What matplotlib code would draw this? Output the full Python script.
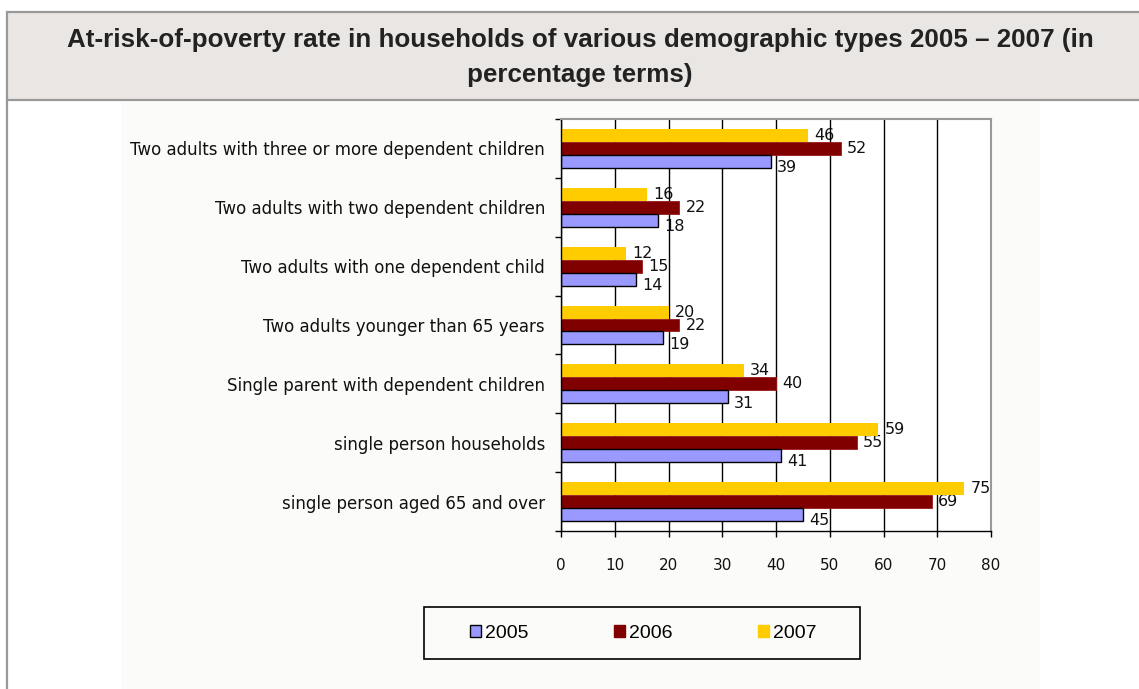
import matplotlib
matplotlib.use("Agg")
import matplotlib.pyplot as plt
from matplotlib.patches import Rectangle, Patch
from matplotlib.lines import Line2D
import numpy as np

# ---- data -------------------------------------------------------------
categories = [
    "Two adults with three or more dependent children",
    "Two adults with two dependent children",
    "Two adults with one dependent child",
    "Two adults younger than 65 years",
    "Single parent with dependent children",
    "single person households",
    "single person aged 65 and over",
]
years = ["2005", "2006", "2007"]
rate_2005 = [39, 18, 14, 19, 31, 41, 45]
rate_2006 = [52, 22, 15, 22, 40, 55, 69]
rate_2007 = [46, 16, 12, 20, 34, 59, 75]
x_ticks = [0, 10, 20, 30, 40, 50, 60, 70, 80]

title_lines = [
    "At-risk-of-poverty rate in households of various demographic types 2005 \u2013 2007 (in",
    "percentage terms)",
]

# ---- figure & pixel helpers ----------------------------------------------
W, H = 1139, 689
fig = plt.figure(figsize=(W / 100, H / 100), dpi=100)
fig.patch.set_facecolor("white")


def fx(px):
    return px / W


def fy(py):
    return 1 - py / H


BORDER = "#999999"

# chart picture background
fig.patches.append(Rectangle((fx(121), fy(689)), fx(1040) - fx(121), fy(101) - fy(689),
                             transform=fig.transFigure, facecolor="#fbfcf9",
                             edgecolor="none", zorder=-2))
# header panel
fig.patches.append(Rectangle((fx(7), fy(100)), fx(1150) - fx(7), fy(12) - fy(100),
                             transform=fig.transFigure, facecolor="#e9e6e4",
                             edgecolor=BORDER, linewidth=1.6, zorder=-1))
fig.lines.append(Line2D([fx(7), fx(7)], [fy(100), fy(700)], transform=fig.transFigure,
                        color=BORDER, linewidth=1.6, zorder=-1))

for i, line in enumerate(title_lines):
    fig.text(fx(580), fy(40 + 35 * i), line, ha="center", va="center",
             fontsize=18.7, fontweight="bold", family="Liberation Sans", color="#222222")

# ---- axes ----------------------------------------------------------------
ax = fig.add_axes([fx(561), fy(531), fx(991) - fx(561), fy(119) - fy(531)])
ax.set_zorder(2)
ax.set_facecolor("white")

y = np.arange(len(categories))
h = 0.22

b07 = ax.barh(y - h, rate_2007, height=h, color="#ffcc00", edgecolor="none", zorder=2)
b06 = ax.barh(y, rate_2006, height=h, color="#800000", edgecolor="#9a1a1a", linewidth=0.6, zorder=2)
b05 = ax.barh(y + h, rate_2005, height=h, color="#9999ff", edgecolor="black", linewidth=1.0, zorder=2)

ax.set_xlim(0, 80)
ax.set_ylim(len(categories) - 0.5, -0.5)

ax.set_xticks(x_ticks)
ax.set_xticklabels([str(t) for t in x_ticks])
ax.set_axisbelow(True)
ax.xaxis.grid(True, color="black", linewidth=1.0)

ax.set_yticks(np.arange(-0.5, len(categories), 1.0))
ax.set_yticklabels([])
ax.set_yticks(y, minor=True)
ax.set_yticklabels(categories, minor=True)
ax.tick_params(axis="y", which="minor", length=0, pad=11.5, labelsize=12, labelcolor="#111111")
ax.tick_params(axis="y", which="major", length=4.3, width=1, direction="out", color="black")
ax.tick_params(axis="x", length=4.3, width=1, direction="out", color="black", pad=15.5,
               labelsize=11, labelcolor="#111111")

for side in ("left", "bottom"):
    ax.spines[side].set_color("black")
    ax.spines[side].set_linewidth(1.0)
for side in ("top", "right"):
    ax.spines[side].set_color(BORDER)
    ax.spines[side].set_linewidth(1.5)

# value labels
for bars, vals, dy in ((b07, rate_2007, 0), (b06, rate_2006, 0), (b05, rate_2005, -4.5)):
    for bar, v in zip(bars, vals):
        yc = bar.get_y() + bar.get_height() / 2
        ax.annotate(str(v), xy=(v, yc), xytext=(4.5, dy), textcoords="offset points",
                    ha="left", va="center", fontsize=11.5, color="#111111", zorder=0.3)

# ---- legend ----------------------------------------------------------------
handles = [
    Patch(facecolor="#9999ff", edgecolor="black", linewidth=1.0),
    Patch(facecolor="#800000", edgecolor="#800000"),
    Patch(facecolor="#ffcc00", edgecolor="#ffcc00"),
]
fig.legend(handles, years, loc="center", bbox_to_anchor=(fx(643), fy(633)), ncol=3,
           frameon=False, prop={"family": "Liberation Sans", "size": 14},
           handlelength=0.57, handleheight=0.57, handletextpad=0.2, columnspacing=4.4)
fig.patches.append(Rectangle((fx(424), fy(659)), fx(860) - fx(424), fy(607) - fy(659),
                             transform=fig.transFigure, facecolor="none",
                             edgecolor="black", linewidth=1.2, zorder=1))

fig.savefig("out.png", dpi=100)
